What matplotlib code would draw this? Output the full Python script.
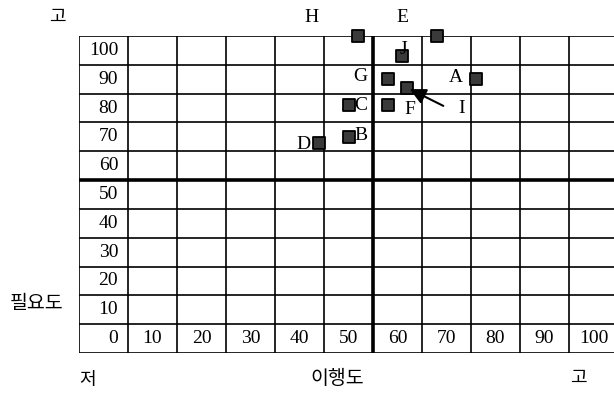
import matplotlib
matplotlib.use("Agg")
import matplotlib.pyplot as plt

# 이행도 (x) vs 필요도 (y), 0-100 scale
names = ["A", "B", "C", "D", "E", "F", "G", "H", "I", "J"]
ihaengdo = [76, 50, 50, 44, 68, 58, 58, 52, 62, 61]
pilyodo = [90, 70, 81, 68, 105, 81, 90, 105, 87, 98]

x_ticks = [10, 20, 30, 40, 50, 60, 70, 80, 90, 100]
y_ticks = [100, 90, 80, 70, 60, 50, 40, 30, 20, 10, 0]

# label offsets in pixels (layout only)
label_off = {"A": (-20, 2), "B": (12, 1), "C": (12, 0), "D": (-16, -2),
             "E": (-34, 18), "F": (22, -4), "G": (-27, 3), "H": (-47, 18),
             "I": (54, -21), "J": (1, 7)}

SERIF = ["Liberation Serif", "DejaVu Serif"]
KR = ["Noto Sans CJK KR", "DejaVu Sans"]

fig = plt.figure(figsize=(6.14, 3.94), dpi=100)
W, H = 614, 394
ax = fig.add_axes([79 / W, 41 / H, 539 / W, 317 / H])
ax.set_xlim(-5, 105)
ax.set_ylim(-5, 105)
ax.axis("off")

# cell grid
for v in range(-5, 110, 10):
    lw = 2.6 if v == 55 else 1.2
    ax.axvline(v, color="black", lw=lw, zorder=1)
    ax.axhline(v, color="black", lw=lw, zorder=1)

# tick values written inside the cells
for v in y_ticks:
    ax.text(3, v, str(v), ha="right", va="center", fontsize=14, family=SERIF)
for v in x_ticks:
    ax.text(v, 0, str(v), ha="center", va="center", fontsize=14, family=SERIF)

# points
ax.scatter(ihaengdo, pilyodo, marker="s", s=70, facecolor="#3a3a3a",
           edgecolor="black", linewidth=1.3, zorder=3, clip_on=False)
for n, x, y in zip(names, ihaengdo, pilyodo):
    ax.annotate(n, (x, y), xytext=label_off[n], textcoords="offset pixels",
                ha="center", va="center", fontsize=14, family=SERIF,
                annotation_clip=False)

# arrow pointing at I
i = names.index("I")
ax.annotate("", xy=(ihaengdo[i], pilyodo[i]), xytext=(36, -18),
            textcoords="offset pixels",
            arrowprops=dict(arrowstyle="-|>", color="black", lw=1.5,
                            mutation_scale=24, shrinkA=0, shrinkB=2))

# axis words
fig.text(57 / W, 1 - 17 / H, "고", ha="center", va="center", fontsize=13, family=KR)
fig.text(37 / W, 1 - 303 / H, "필요도", ha="center", va="center", fontsize=14, family=KR)
fig.text(88 / W, 1 - 380 / H, "저", ha="center", va="center", fontsize=13, family=KR)
fig.text(337 / W, 1 - 378 / H, "이행도", ha="center", va="center", fontsize=14, family=KR)
fig.text(578 / W, 1 - 378 / H, "고", ha="center", va="center", fontsize=13, family=KR)

fig.savefig("out.png", dpi=100)
